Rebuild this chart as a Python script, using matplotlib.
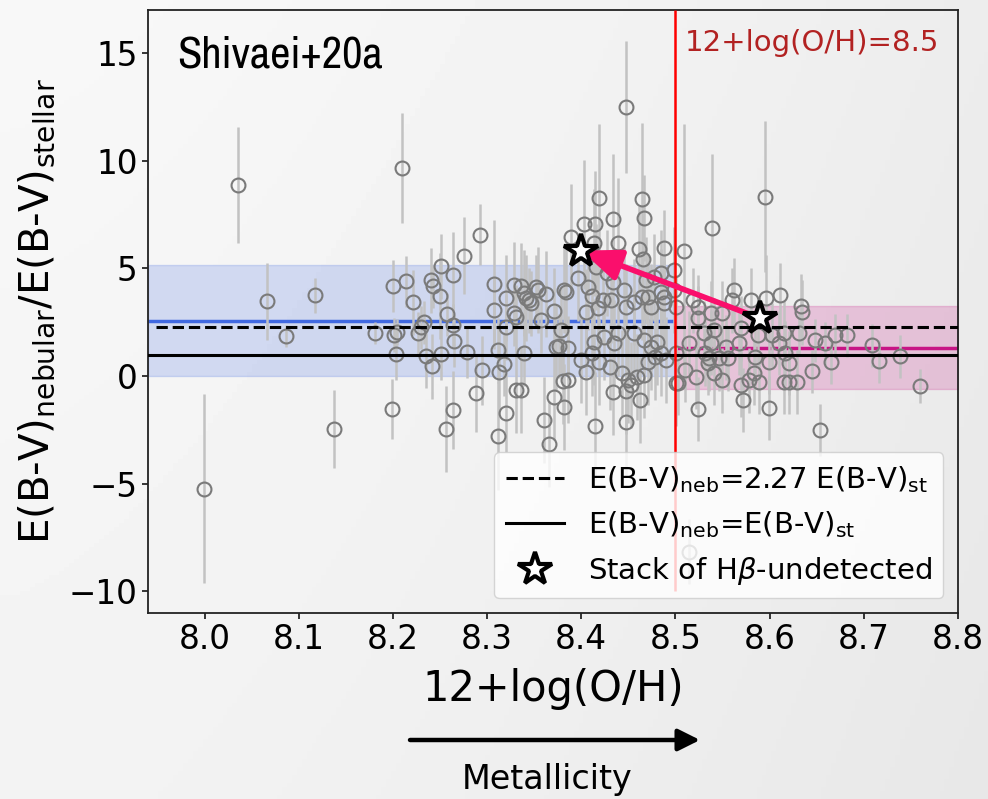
import numpy as np
import matplotlib
matplotlib.use('Agg')
import matplotlib.pyplot as plt
from matplotlib import font_manager

# ---------------- data ----------------
metallicity = [
    8.036, 8.210, 7.999, 8.066, 8.086, 8.117, 8.137, 8.199, 8.200, 8.181,
    8.201, 8.204, 8.203, 8.214, 8.221, 8.240, 8.243, 8.250, 8.251, 8.264,
    8.276, 8.293, 8.257, 8.233, 8.227, 8.235, 8.241, 8.251, 8.264, 8.265,
    8.279, 8.295, 8.288, 8.264, 8.256, 8.307, 8.307, 8.320, 8.329, 8.336,
    8.331, 8.312, 8.318, 8.313, 8.331, 8.320, 8.312, 8.341, 8.339, 8.360,
    8.366, 8.371, 8.371, 8.373, 8.357, 8.344, 8.354, 8.363, 8.352, 8.347,
    8.382, 8.389, 8.403, 8.415, 8.419, 8.465, 8.467, 8.434, 8.413, 8.439,
    8.461, 8.466, 8.488, 8.509, 8.416, 8.397, 8.407, 8.434, 8.445, 8.411,
    8.423, 8.432, 8.448, 8.456, 8.464, 8.471, 8.474, 8.488, 8.485, 8.498,
    8.469, 8.477, 8.418, 8.405, 8.448, 8.376, 8.386, 8.381, 8.386, 8.382,
    8.379, 8.400, 8.405, 8.411, 8.419, 8.430, 8.414, 8.424, 8.435, 8.439,
    8.443, 8.450, 8.459, 8.467, 8.453, 8.434, 8.448, 8.462, 8.415, 8.448,
    8.456, 8.467, 8.474, 8.478, 8.471, 8.485, 8.490, 8.480, 8.501, 8.336,
    8.595, 8.539, 8.498, 8.562, 8.580, 8.596, 8.611, 8.633, 8.634, 8.560,
    8.519, 8.524, 8.538, 8.549, 8.524, 8.501, 8.524, 8.572, 8.599, 8.654,
    8.760, 8.709, 8.716, 8.738, 8.682, 8.665, 8.645, 8.669, 8.659, 8.648,
    8.631, 8.615, 8.621, 8.629, 8.621, 8.616, 8.610, 8.602, 8.588, 8.583,
    8.589, 8.578, 8.570, 8.584, 8.599, 8.567, 8.554, 8.556, 8.549, 8.541,
    8.535, 8.522, 8.510, 8.503, 8.501, 8.514, 8.530, 8.538, 8.541, 8.570,
    8.615, 8.536, 8.546, 8.531, 8.514, 8.339, 8.384, 8.427, 8.485, 8.488,
    8.329, 8.230, 8.320,
]
ebv_ratio = [
    8.89, 9.68, -5.23, 3.47, 1.85, 3.75, -2.45, -1.53, 4.17, 1.99,
    1.90, 2.04, 1.02, 4.40, 3.43, 4.44, 4.17, 3.70, 5.09, 4.68,
    5.60, 6.57, 2.87, 2.50, 1.99, 0.93, 0.46, 1.02, 2.36, 1.62,
    1.11, 0.28, -0.79, -1.57, -2.45, 4.26, 3.06, 3.61, 4.21, 4.17,
    2.73, 1.20, 0.56, 0.19, -0.65, -1.71, -2.78, 3.61, 1.06, -2.04,
    -3.15, -0.97, 3.01, 1.34, 2.59, 3.52, 3.98, 3.80, 4.12, 3.38,
    3.98, 6.44, 7.04, 7.04, 8.29, 8.24, 7.36, 7.31, 6.20, 6.20,
    5.88, 5.42, 5.93, 5.79, 5.05, 4.54, 4.12, 4.35, 3.98, 3.70,
    3.52, 3.52, 3.19, 3.43, 3.66, 3.66, 3.19, 3.66, 4.77, 4.91,
    4.44, 4.58, 3.15, 2.96, 12.50, 1.39, 1.30, -0.23, -0.19, -1.44,
    2.13, 0.74, 0.19, 1.06, 0.65, 0.42, 1.57, 1.81, 1.53, 1.99,
    0.14, -0.19, -0.05, 0.05, -0.42, -0.74, -0.69, -1.11, -2.31, -2.13,
    1.99, 1.67, 1.34, 0.88, 0.65, 1.06, 0.74, 1.57, -0.32, -0.65,
    8.33, 6.90, 3.98, 3.98, 3.52, 3.61, 3.75, 3.24, 2.96, 3.52,
    3.52, 3.19, 2.92, 2.92, 2.69, 3.19, -1.53, -1.11, -1.48, -2.50,
    -0.46, 1.44, 0.69, 0.93, 1.90, 0.65, 0.23, 1.90, 1.53, 1.67,
    1.99, -0.28, -0.28, -0.28, 0.60, 1.06, 1.53, 1.90, 1.90, 0.14,
    -0.28, -0.19, -0.42, 0.88, 0.65, 1.53, 1.34, 0.83, -0.19, 0.14,
    0.60, -0.05, 0.28, -0.32, 1.06, 1.53, 1.99, 1.53, 2.13, 2.22,
    1.99, 0.83, 0.83, 1.06, -8.15, 3.84, 3.89, 4.77, 3.89, 3.38,
    2.92, 2.27, 2.27,
]
ebv_ratio_err = [
    2.7, 2.55, 4.4, 1.8, 0.5, 0.8, 1.8, 1.4, 1.2, 0.5,
    0.8, 0.6, 1.2, 1.2, 1.5, 1.5, 1.0, 2.0, 1.5, 2.0,
    1.8, 1.4, 1.0, 1.0, 1.0, 1.5, 1.5, 1.2, 1.0, 1.2,
    1.2, 1.6, 1.8, 1.8, 2.0, 3.0, 1.5, 2.0, 2.0, 2.0,
    1.5, 1.5, 1.5, 2.0, 2.0, 1.8, 2.5, 2.0, 1.5, 2.0,
    2.0, 2.0, 2.0, 2.0, 1.5, 1.5, 2.0, 2.0, 1.5, 1.5,
    2.0, 2.5, 3.0, 2.5, 3.4, 3.5, 2.0, 3.0, 2.5, 3.0,
    2.0, 2.0, 1.8, 5.9, 2.0, 2.0, 2.0, 2.0, 2.0, 2.0,
    2.0, 2.0, 2.0, 2.0, 2.0, 2.0, 2.0, 2.0, 2.0, 2.0,
    2.0, 2.0, 2.0, 2.0, 3.05, 1.5, 1.5, 2.0, 2.0, 2.0,
    2.0, 2.0, 2.0, 2.0, 2.0, 2.0, 2.0, 2.0, 2.0, 2.0,
    2.0, 2.0, 2.0, 2.0, 2.0, 2.0, 2.0, 2.0, 2.5, 2.5,
    2.0, 2.0, 2.0, 2.0, 2.0, 2.0, 2.0, 2.0, 2.0, 2.0,
    3.5, 3.4, 2.0, 1.5, 1.5, 2.0, 1.5, 1.5, 1.5, 1.5,
    1.5, 1.5, 1.5, 1.5, 1.5, 1.5, 1.5, 1.5, 1.5, 1.2,
    0.8, 1.0, 1.0, 1.0, 1.0, 1.0, 1.0, 1.0, 1.0, 1.0,
    1.0, 1.5, 1.5, 1.5, 1.5, 1.5, 1.5, 1.5, 1.5, 1.5,
    1.5, 1.5, 1.5, 1.5, 1.5, 1.5, 1.5, 1.5, 1.5, 1.5,
    1.5, 1.5, 1.5, 1.5, 1.5, 1.5, 1.5, 1.5, 1.5, 1.5,
    1.5, 1.5, 1.5, 1.5, 1.5, 2.0, 2.0, 2.0, 2.0, 2.0,
    1.5, 1.0, 1.5,
]

stack_metallicity = [8.59, 8.40]
stack_ratio = [2.68, 5.83]

ratio_calzetti = 2.27
ratio_unity = 1.0
z_split = 8.5
low_z_median, low_z_lo, low_z_hi = 2.56, 0.0, 5.15
high_z_median, high_z_lo, high_z_hi = 1.31, -0.6, 3.24

x_ticks = [8.0, 8.1, 8.2, 8.3, 8.4, 8.5, 8.6, 8.7, 8.8]
y_ticks = [-10, -5, 0, 5, 10, 15]
xlim = (7.94, 8.8)
ylim = (-11, 17)

# ---------------- figure ----------------
fig = plt.figure(figsize=(9.88, 7.99), dpi=100)

# soft gradient background
bg = fig.add_axes([0, 0, 1, 1], zorder=-10)
gx, gy = np.meshgrid(np.linspace(0, 1, 200), np.linspace(0, 1, 200))
grad = 0.972 - 0.045 * gx ** 1.5 - 0.02 * gy
bg.imshow(grad, cmap='gray', vmin=0, vmax=1, extent=[0, 1, 0, 1],
          aspect='auto', origin='upper')
bg.axis('off')

ax = fig.add_axes([148 / 988, 1 - 613 / 799, 810 / 988, 603 / 799])
ax.set_facecolor('none')

# shaded bands and medians
ax.fill_between([xlim[0], z_split], low_z_lo, low_z_hi, color='royalblue',
                alpha=0.2, lw=1, zorder=1)
ax.fill_between([z_split, xlim[1]], high_z_lo, high_z_hi, color='mediumvioletred',
                alpha=0.2, lw=1, zorder=1)
ax.hlines(low_z_median, xlim[0], z_split, color='royalblue', lw=2.5, zorder=2)
ax.hlines(high_z_median, z_split, xlim[1], color='mediumvioletred', lw=2.5, zorder=2)

# data points
ax.errorbar(metallicity, ebv_ratio, yerr=ebv_ratio_err, fmt='none',
            ecolor='#c2c2c2', elinewidth=1.8, zorder=2)
ax.plot(metallicity, ebv_ratio, ls='none', marker='o', ms=10, mfc='none',
        mec='#7a7a7a', mew=1.5, zorder=3)

# reference lines
ax.hlines(ratio_calzetti, 7.948, xlim[1], color='black', ls='--', lw=2.2, zorder=4,
          label=r'E(B-V)$_{\rm neb}$=2.27 E(B-V)$_{\rm st}$')
ax.axhline(ratio_unity, color='black', ls='-', lw=2.2, zorder=4,
           label=r'E(B-V)$_{\rm neb}$=E(B-V)$_{\rm st}$')
ax.vlines(z_split, -10, ylim[1], color='red', lw=1.8, zorder=4)

# stacks with arrow
ax.annotate('', xy=(stack_metallicity[1], stack_ratio[1]),
            xytext=(stack_metallicity[0], stack_ratio[0]),
            arrowprops=dict(arrowstyle='-|>,head_length=0.8,head_width=0.32',
                            color='#fa0f6c', lw=4, mutation_scale=30,
                            shrinkA=0, shrinkB=0), zorder=5)
ax.plot(stack_metallicity, stack_ratio, ls='none', marker='*', ms=25,
        mfc='white', mec='black', mew=3, zorder=6,
        label=r'Stack of H$\beta$-undetected')

ax.text(8.51, 15.46, '12+log(O/H)=8.5', color='firebrick', fontsize=21,
        va='center', ha='left')

# narrow font for the tag: prefer a "Narrow" face, then any condensed face
narrow_fname, tag_size = None, 24
cands = [f for f in font_manager.fontManager.ttflist
         if f.style == 'normal' and f.weight in (400, 'normal', 'regular')]
for f in cands:
    if 'narrow' in f.name.lower() or 'narrow' in f.fname.lower():
        narrow_fname, tag_size = f.fname, 32
        break
if narrow_fname is None:
    for f in cands:
        if 'condensed' in f.name.lower() or 'condensed' in f.fname.lower() \
                or 'condensed' in str(f.stretch).lower():
            narrow_fname, tag_size = f.fname, 26
            break
if narrow_fname is not None:
    tag_font = font_manager.FontProperties(fname=narrow_fname, size=tag_size)
    ax.text(0.036, 0.924, 'Shivaei+20a', transform=ax.transAxes,
            va='center', ha='left', fontproperties=tag_font)
else:
    ax.text(0.036, 0.924, 'Shivaei+20a', transform=ax.transAxes,
            fontsize=tag_size, va='center', ha='left')

ax.set_xlim(*xlim)
ax.set_ylim(*ylim)
ax.set_xticks(x_ticks)
ax.set_xticklabels([f'{t:.1f}' for t in x_ticks])
ax.set_yticks(y_ticks)
ax.tick_params(labelsize=23.5, length=4, width=1.1, direction='out')
for s in ax.spines.values():
    s.set_linewidth(1.3)
    s.set_color('#222222')

ax.set_xlabel('12+log(O/H)', fontsize=30, labelpad=8)
ax.set_ylabel(r'E(B-V)$_{\rm nebular}$/E(B-V)$_{\rm stellar}$', fontsize=29,
              labelpad=8)

leg = ax.legend(loc='lower right', fontsize=21, framealpha=0.8,
                handlelength=2.0, borderaxespad=0.5)
leg.set_zorder(10)

# metallicity arrow under the axis
ax.annotate('', xy=(700 / 988, 1 - 740 / 799), xytext=(410 / 988, 1 - 740 / 799),
            xycoords='figure fraction', textcoords='figure fraction',
            arrowprops=dict(arrowstyle='-|>,head_length=0.6,head_width=0.3',
                            color='black', lw=3.2, mutation_scale=22,
                            shrinkA=0, shrinkB=0))
fig.text(547 / 988, 1 - 780 / 799, 'Metallicity', ha='center', va='center',
         fontsize=24)

fig.savefig('out.png', dpi=100)
